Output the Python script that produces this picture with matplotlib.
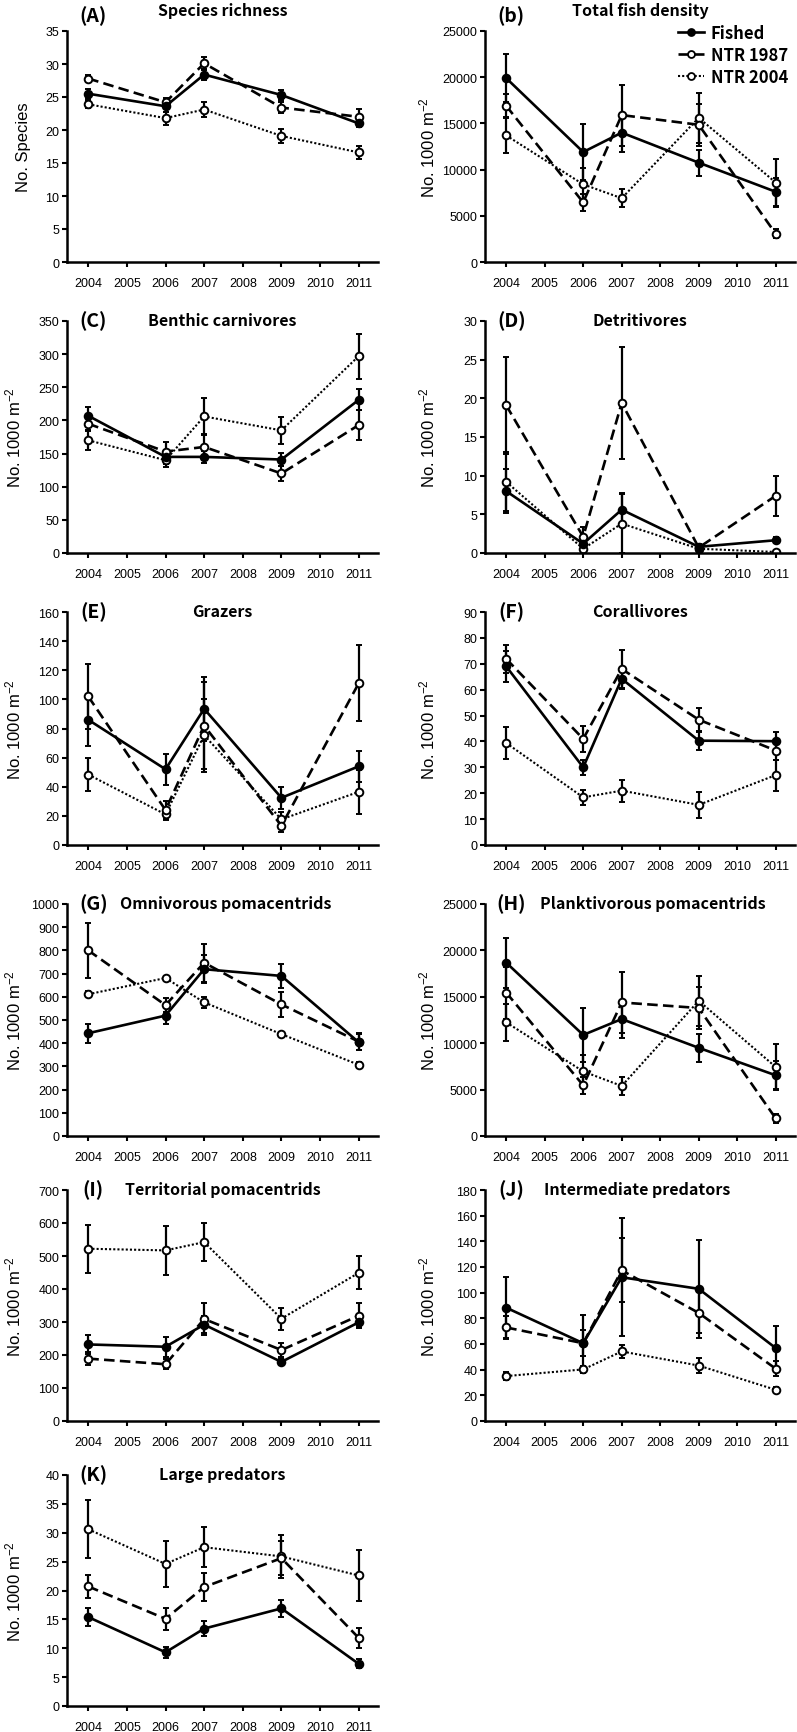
import matplotlib
matplotlib.use("Agg")
import matplotlib.pyplot as plt

plt.rcParams['font.family'] = ['Liberation Sans', 'DejaVu Sans']
plt.rcParams['mathtext.fontset'] = 'custom'
plt.rcParams['mathtext.rm'] = 'Liberation Sans'
plt.rcParams['mathtext.it'] = 'Liberation Sans:italic'

TITLE_FONT = ['Noto Sans CJK KR', 'DejaVu Sans']

years = [2004, 2006, 2007, 2009, 2011]
groups = ['Fished', 'NTR 1987', 'NTR 2004']

# (A) species richness
a_fished = [25.5, 23.6, 28.4, 25.3, 21.0]
a_fished_se = [0.7, 0.8, 0.8, 0.7, 0.6]
a_ntr87 = [27.8, 24.2, 30.1, 23.4, 22.0]
a_ntr87_se = [0.6, 0.6, 1.0, 0.8, 1.2]
a_ntr04 = [23.9, 21.8, 23.1, 19.1, 16.6]
a_ntr04_se = [0.6, 1.0, 1.2, 1.0, 1.0]

# (b) total fish density
b_fished = [19900, 11900, 14000, 10750, 7600]
b_fished_se = [2600, 3000, 2100, 1400, 1500]
b_ntr87 = [16900, 6450, 15900, 14850, 3050]
b_ntr87_se = [1300, 900, 3300, 2300, 500]
b_ntr04 = [13700, 8400, 6900, 15600, 8600]
b_ntr04_se = [1950, 1800, 1000, 2700, 2600]

# (C) benthic carnivores
c_fished = [207, 145, 145, 141, 231]
c_fished_se = [14, 10, 9, 10, 16]
c_ntr87 = [195, 153, 160, 120, 193]
c_ntr87_se = [10, 14, 20, 11, 22]
c_ntr04 = [170, 140, 206, 185, 297]
c_ntr04_se = [14, 10, 28, 20, 34]

# (D) detritivores
d_fished = [8.0, 1.2, 5.6, 0.8, 1.65]
d_fished_se = [2.8, 0.5, 2.1, 0.3, 0.4]
d_ntr87 = [19.1, 2.1, 19.4, 0.7, 7.4]
d_ntr87_se = [6.3, 1.2, 7.2, 0.3, 2.6]
d_ntr04 = [9.2, 0.55, 3.8, 0.55, 0.13]
d_ntr04_se = [3.8, 0.5, 3.8, 0.3, 0.1]

# (E) grazers
e_fished = [86, 52, 93.5, 32.4, 54]
e_fished_se = [18, 10.5, 22, 7.5, 10.5]
e_ntr87 = [102, 24, 82, 13.2, 111]
e_ntr87_se = [22, 6, 30, 4, 26]
e_ntr04 = [48.4, 21, 75.4, 17.6, 36.5]
e_ntr04_se = [11.5, 4, 25, 5, 15]

# (F) corallivores
f_fished = [69, 30, 64.2, 40.3, 40.1]
f_fished_se = [6, 3, 4, 3.5, 3.5]
f_ntr87 = [71.9, 41, 68, 48.4, 36.5]
f_ntr87_se = [5.5, 5, 7.5, 4.5, 3.5]
f_ntr04 = [39.4, 18.4, 21, 15.5, 27]
f_ntr04_se = [6.3, 3, 4.3, 5, 6]

# (G) omnivorous pomacentrids
g_fished = [443, 519, 719, 690, 404]
g_fished_se = [40, 35, 60, 53, 35]
g_ntr87 = [800, 564, 747, 567, 407]
g_ntr87_se = [117, 30, 82, 55, 35]
g_ntr04 = [611, 681, 576, 439, 307]
g_ntr04_se = [12, 8, 25, 10, 12]

# (H) planktivorous pomacentrids
h_fished = [18680, 10890, 12600, 9500, 6540]
h_fished_se = [2700, 2900, 2000, 1500, 1500]
h_ntr87 = [15460, 5460, 14390, 13790, 1890]
h_ntr87_se = [2800, 900, 3300, 2300, 500]
h_ntr04 = [12250, 6960, 5390, 14570, 7430]
h_ntr04_se = [2000, 1800, 1000, 2700, 2500]

# (I) territorial pomacentrids
i_fished = [232, 225, 292, 179, 299]
i_fished_se = [30, 30, 25, 10, 15]
i_ntr87 = [189, 172, 309, 215, 319]
i_ntr87_se = [20, 15, 48, 20, 38]
i_ntr04 = [522, 517, 542, 310, 449]
i_ntr04_se = [73, 75, 58, 33, 50]

# (J) intermediate predators
j_fished = [88.3, 60.6, 112, 103, 56.8]
j_fished_se = [24, 22, 46, 38, 17]
j_ntr87 = [72.9, 60.6, 117.4, 84.2, 40.7]
j_ntr87_se = [9, 10, 25, 16, 6]
j_ntr04 = [35, 40.2, 54.2, 43.2, 24.3]
j_ntr04_se = [3, 3, 5, 6, 2]

# (K) large predators
k_fished = [15.4, 9.3, 13.4, 16.9, 7.3]
k_fished_se = [1.6, 1.0, 1.3, 1.5, 0.8]
k_ntr87 = [20.7, 15.1, 20.6, 25.6, 11.8]
k_ntr87_se = [2.0, 1.9, 2.4, 3.0, 1.7]
k_ntr04 = [30.6, 24.6, 27.5, 25.9, 22.6]
k_ntr04_se = [5.0, 4.0, 3.5, 3.7, 4.4]

panels = [
    ('(A)', 'Species richness', 'No. Species', 35, 5,
     (a_fished, a_fished_se), (a_ntr87, a_ntr87_se), (a_ntr04, a_ntr04_se)),
    ('(b)', 'Total fish density', None, 25000, 5000,
     (b_fished, b_fished_se), (b_ntr87, b_ntr87_se), (b_ntr04, b_ntr04_se)),
    ('(C)', 'Benthic carnivores', None, 350, 50,
     (c_fished, c_fished_se), (c_ntr87, c_ntr87_se), (c_ntr04, c_ntr04_se)),
    ('(D)', 'Detritivores', None, 30, 5,
     (d_fished, d_fished_se), (d_ntr87, d_ntr87_se), (d_ntr04, d_ntr04_se)),
    ('(E)', 'Grazers', None, 160, 20,
     (e_fished, e_fished_se), (e_ntr87, e_ntr87_se), (e_ntr04, e_ntr04_se)),
    ('(F)', 'Corallivores', None, 90, 10,
     (f_fished, f_fished_se), (f_ntr87, f_ntr87_se), (f_ntr04, f_ntr04_se)),
    ('(G)', 'Omnivorous pomacentrids', None, 1000, 100,
     (g_fished, g_fished_se), (g_ntr87, g_ntr87_se), (g_ntr04, g_ntr04_se)),
    ('(H)', 'Planktivorous pomacentrids', None, 25000, 5000,
     (h_fished, h_fished_se), (h_ntr87, h_ntr87_se), (h_ntr04, h_ntr04_se)),
    ('(I)', 'Territorial pomacentrids', None, 700, 100,
     (i_fished, i_fished_se), (i_ntr87, i_ntr87_se), (i_ntr04, i_ntr04_se)),
    ('(J)', 'Intermediate predators', None, 180, 20,
     (j_fished, j_fished_se), (j_ntr87, j_ntr87_se), (j_ntr04, j_ntr04_se)),
    ('(K)', 'Large predators', None, 40, 5,
     (k_fished, k_fished_se), (k_ntr87, k_ntr87_se), (k_ntr04, k_ntr04_se)),
]

# title x positions (axes fraction) for the main title text
title_x = [0.5, 0.5, 0.5, 0.5, 0.5, 0.5, 0.51, 0.54, 0.5, 0.49, 0.5]

styles = [
    dict(ls='-', lw=1.9, mfc='black'),
    dict(ls=(0, (4, 2)), lw=1.9, mfc='white'),
    dict(ls=(0, (1, 1)), lw=1.5, mfc='white'),
]

W, H = 797, 1733
fig = plt.figure(figsize=(W / 100, H / 100), dpi=100)

row_tops = [32, 322, 613, 905, 1191, 1476]
row_bots = [263, 554, 846, 1137, 1422, 1707]
col_left = [67, 485]
col_width = [311, 310]

for n, (lab, title, ylab, ymax, ystep, s1, s2, s3) in enumerate(panels):
    r, c = divmod(n, 2)
    top, bot = row_tops[r], row_bots[r]
    ax = fig.add_axes([col_left[c] / W, 1 - bot / H, col_width[c] / W, (bot - top) / H])

    for (vals, se), st in zip([s3, s2, s1], styles[::-1]):
        ax.errorbar(years, vals, yerr=se, color='black', ls=st['ls'], lw=st['lw'],
                    marker='o', ms=5.5, mfc=st['mfc'], mec='black', mew=1.4,
                    elinewidth=1.6, capsize=2.5, capthick=1.6, ecolor='black')

    ax.set_xlim(2003.45, 2011.5)
    ax.set_ylim(0, ymax)
    ax.set_xticks(range(2004, 2012))
    ax.set_yticks(range(0, ymax + 1, ystep))
    for sp in ['top', 'right']:
        ax.spines[sp].set_visible(False)
    for sp in ['left', 'bottom']:
        ax.spines[sp].set_linewidth(1.8)
    ax.tick_params(direction='out', length=3.5, width=1.5, labelsize=9)
    ax.tick_params(axis='x', pad=7)
    ax.tick_params(axis='y', pad=2)

    ax.set_ylabel(ylab if ylab else 'No. 1000 m$^{-2}$', fontsize=12)
    if n == 0:
        ax.yaxis.set_label_coords(-0.115, 0.5)
    elif c == 0:
        ax.yaxis.set_label_coords(-0.14, 0.5)
    else:
        ax.yaxis.set_label_coords(-0.155, 0.5)

    ty = 1.09 if r == 0 else 1.005
    ly = 1.07 if r == 0 else 1.005
    ax.text(0.085, ly, lab, transform=ax.transAxes, ha='center', va='center',
            fontsize=14, fontweight='bold', family=TITLE_FONT)
    ax.text(title_x[n], ty, title, transform=ax.transAxes, ha='center', va='center',
            fontsize=11.5, fontweight='bold', family=TITLE_FONT)

    if n == 1:
        handles = [plt.Line2D([], [], color='black', ls=st['ls'], lw=st['lw'], marker='o',
                              ms=5, mfc=st['mfc'], mec='black', mew=1.3) for st in styles]
        ax.legend(handles, groups, loc='upper right', bbox_to_anchor=(1.0, 1.06),
                  frameon=False, borderaxespad=0, handlelength=1.6, handletextpad=0.4,
                  labelspacing=0.25, prop=dict(family=TITLE_FONT, weight='bold', size=12))

fig.savefig('out.png', dpi=100)
